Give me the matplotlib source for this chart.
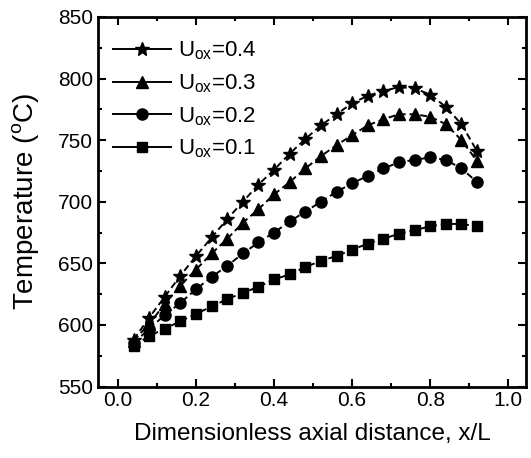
import matplotlib
matplotlib.use("Agg")
import matplotlib.pyplot as plt
from matplotlib.lines import Line2D
from matplotlib.ticker import MultipleLocator

plt.rcParams.update({
    "font.family": "Liberation Sans",
    "mathtext.fontset": "custom",
    "mathtext.rm": "Liberation Sans",
    "font.size": 15,
})

# datos
x_L = [0.04, 0.08, 0.12, 0.16, 0.20, 0.24, 0.28, 0.32, 0.36, 0.40, 0.44, 0.48,
       0.52, 0.56, 0.60, 0.64, 0.68, 0.72, 0.76, 0.80, 0.84, 0.88, 0.92]

T_04 = [588, 606, 623, 640, 656, 671, 686, 700, 714, 726, 739, 751,
        762, 771, 780, 786, 790, 793, 792, 787, 777, 763, 741]
T_03 = [587, 601, 617, 632, 645, 658, 670, 683, 694, 706, 716, 727,
        737, 746, 754, 762, 767, 771, 771, 769, 763, 750, 733]
T_02 = [585, 597, 608, 618, 629, 639, 648, 658, 667, 675, 684, 692,
        700, 708, 715, 721, 727, 732, 734, 736, 734, 727, 716]
T_01 = [583, 591, 597, 603, 609, 615, 621, 626, 631, 637, 641, 647,
        652, 656, 661, 666, 670, 674, 677, 680, 682, 682, 680]

series = [
    (T_04, "*", 10, r"U$_\mathregular{ox}$=0.4"),
    (T_03, "^", 8, r"U$_\mathregular{ox}$=0.3"),
    (T_02, "o", 8, r"U$_\mathregular{ox}$=0.2"),
    (T_01, "s", 7, r"U$_\mathregular{ox}$=0.1"),
]

fig = plt.figure(figsize=(5.31, 4.58), dpi=100)
ax = fig.add_axes([0.184, 0.156, 0.807, 0.807])

handles = []
for valores, marcador, tam, etiqueta in series:
    ax.plot(x_L, valores, color="black", linestyle=(0, (3.5, 2)),
            linewidth=1.4, marker=marcador, markersize=tam)
    handles.append(Line2D([], [], color="black", linewidth=1.4,
                          marker=marcador, markersize=tam, label=etiqueta))

ax.set_xlim(-0.052, 1.046)
ax.set_ylim(550, 850)
ax.xaxis.set_major_locator(MultipleLocator(0.2))
ax.xaxis.set_minor_locator(MultipleLocator(0.1))
ax.yaxis.set_major_locator(MultipleLocator(50))
ax.yaxis.set_minor_locator(MultipleLocator(25))
ax.xaxis.set_major_formatter(matplotlib.ticker.FormatStrFormatter("%.1f"))

ax.tick_params(which="both", direction="in", top=True, right=True,
               width=1.5, labelsize=15)
ax.tick_params(which="major", length=6)
ax.tick_params(which="minor", length=3)
for lado in ax.spines.values():
    lado.set_linewidth(2)

ax.set_xlabel("Dimensionless axial distance, x/L", fontsize=17.5, labelpad=9)
ax.set_ylabel(r"Temperature ($^\mathregular{o}$C)", fontsize=20, labelpad=11)

ax.legend(handles=handles, loc="upper left", frameon=False, fontsize=16,
          handlelength=2.6, handletextpad=0.3, labelspacing=0.45,
          borderaxespad=0.3, bbox_to_anchor=(0.0, 0.98))

fig.savefig("out.png", dpi=100)
